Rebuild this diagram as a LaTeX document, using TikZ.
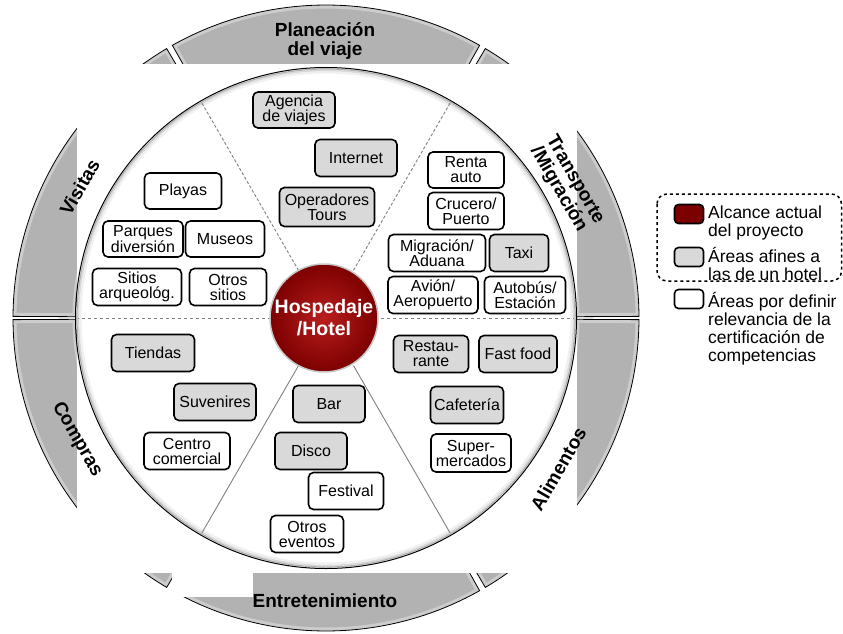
\documentclass[tikz,border=0pt]{standalone}
\usepackage{fontspec}
\setmainfont{Liberation Sans}
\usetikzlibrary{calc}
\definecolor{ringgray}{RGB}{178,178,178}
\definecolor{boxgray}{RGB}{217,217,217}
\definecolor{hotelred}{RGB}{125,0,0}
\definecolor{hotelred2}{RGB}{185,30,30}
\begin{document}
\begin{tikzpicture}[x=1pt,y=-1pt,
  box/.style={draw=black, line width=1.6pt, rounded corners=5pt, align=center, inner sep=1pt,
              font=\fontsize{16}{15}\selectfont},
  gbox/.style={box, fill=boxgray},
  wbox/.style={box, fill=white},
  seglabel/.style={font=\bfseries\fontsize{19}{19}\selectfont, align=center, inner sep=0pt},
  legtext/.style={font=\fontsize{17.5}{18}\selectfont, align=left, anchor=west, inner sep=0pt},
  legbox/.style={draw=black, line width=1.6pt, rounded corners=4pt, minimum width=29pt, minimum height=19pt, inner sep=0pt},
  divline/.style={draw=gray, line width=0.9pt}]
\useasboundingbox (0,0) rectangle (843,634);
\coordinate (C) at (326,318);

% outer ring segments
\foreach \a/\b in {0.3/59.4, 60.6/119.4, 120.6/179.7, 180.3/239.4, 240.6/299.4, 300.6/359.7} {
  \begin{scope}
    \clip ($(C)+(-\a:250)$) -- ($(C)+(-\a:313)$) arc[start angle=-\a, end angle=-\b, radius=313]
      -- ($(C)+(-\b:250)$) arc[start angle=-\b, end angle=-\a, radius=250] -- cycle;
    \fill[ringgray] (C) circle[radius=320];
    \draw[white, opacity=0.35, line width=7pt]
      ($(C)+(-\a:250)$) -- ($(C)+(-\a:313)$) arc[start angle=-\a, end angle=-\b, radius=313]
      -- ($(C)+(-\b:250)$) arc[start angle=-\b, end angle=-\a, radius=250] -- cycle;
  \end{scope}
  \draw[black, line width=0.8pt]
    ($(C)+(-\a:250)$) -- ($(C)+(-\a:313)$) arc[start angle=-\a, end angle=-\b, radius=313]
    -- ($(C)+(-\b:250)$) arc[start angle=-\b, end angle=-\a, radius=250] -- cycle;
}

% white masks
\fill[white] (77,64) rectangle (577,573);
\fill[white] (172,573) rectangle (253,597);

% inner disk
\fill[white] (C) circle[radius=250];
\draw[gray!12, line width=2pt] (C) circle[radius=245.5];
\draw[gray!30, line width=1.5pt] (C) circle[radius=247.5];
\draw[gray!60, line width=1.2pt] (C) circle[radius=249];
\draw[black, line width=1pt] (C) circle[radius=250.5];

% sector dividers
\foreach \t in {60,120} \draw[divline, densely dashed] ($(C)+(-\t:55)$) -- ($(C)+(-\t:248)$);
\foreach \t in {240,300} \draw[divline] ($(C)+(-\t:55)$) -- ($(C)+(-\t:248)$);
\foreach \t in {0,180} \draw[divline, dashed] ($(C)+(-\t:55)$) -- ($(C)+(-\t:248)$);

% centre
\node[circle, minimum size=108pt, inner sep=0pt, draw=gray!45, line width=1.5pt,
      inner color=hotelred2, outer color=hotelred, text=white, align=center,
      font=\bfseries\fontsize{19.5}{22}\selectfont] (hotel) at (324,318) {Hospedaje\\/Hotel};

% Planeacion
\node[gbox, minimum width=82pt, minimum height=36pt] (agencia) at (294,110) {Agencia\\de viajes};
\node[gbox, minimum width=82pt, minimum height=37pt] (internet) at (356,158) {Internet};
\node[gbox, minimum width=95pt, minimum height=39pt] (operadores) at (327,207) {Operadores\\Tours};
% Visitas
\node[wbox, minimum width=77pt, minimum height=36pt] (playas) at (183,191) {Playas};
\node[wbox, minimum width=80pt, minimum height=36pt] (parques) at (143,239) {Parques\\diversión};
\node[wbox, minimum width=79pt, minimum height=36pt] (museos) at (225,239) {Museos};
\node[wbox, minimum width=89pt, minimum height=37pt] (sitios) at (137,287) {Sitios\\arqueológ.};
\node[wbox, minimum width=77pt, minimum height=37pt] (otrossitios) at (228,287) {Otros\\sitios};
% Transporte
\node[wbox, minimum width=76pt, minimum height=36pt] (renta) at (466,170) {Renta\\auto};
\node[wbox, minimum width=76pt, minimum height=37pt] (crucero) at (466,211) {Crucero/\\Puerto};
\node[wbox, minimum width=97pt, minimum height=37pt] (migracion) at (437,253) {Migración/\\Aduana};
\node[gbox, minimum width=59pt, minimum height=37pt] (taxi) at (519,253) {Taxi};
\node[wbox, minimum width=90pt, minimum height=37pt] (avion) at (433,295) {Avión/\\Aeropuerto};
\node[wbox, minimum width=81pt, minimum height=37pt] (autobus) at (525,295) {Autobús/\\Estación};
% Compras
\node[gbox, minimum width=83pt, minimum height=37pt] (tiendas) at (153,353) {Tiendas};
\node[gbox, minimum width=82pt, minimum height=37pt] (suvenires) at (215,402) {Suvenires};
\node[wbox, minimum width=86pt, minimum height=37pt] (centro) at (187,451) {Centro\\comercial};
% Alimentos
\node[gbox, minimum width=75pt, minimum height=37pt] (restaurante) at (431,354) {Restau-\\rante};
\node[gbox, minimum width=78pt, minimum height=37pt] (fastfood) at (518,354) {Fast food};
\node[gbox, minimum width=73pt, minimum height=37pt] (cafeteria) at (467,405) {Cafetería};
\node[wbox, minimum width=80pt, minimum height=38pt] (super) at (471,453) {Super-\\mercados};
% Entretenimiento
\node[gbox, minimum width=72pt, minimum height=37pt] (bar) at (329,404) {Bar};
\node[gbox, minimum width=72pt, minimum height=37pt] (disco) at (311,451) {Disco};
\node[wbox, minimum width=75pt, minimum height=37pt] (festival) at (346,491) {Festival};
\node[wbox, minimum width=73pt, minimum height=37pt] (otroseventos) at (307,534) {Otros\\eventos};

% segment labels
\node[seglabel] (lplan) at (325,41) {Planeación\\del viaje};
\node[seglabel] (lentre) at (325,601) {Entretenimiento};
\node[seglabel, rotate=60] (lvis) at ($(C)+(-152:279)$) {Visitas};
\node[seglabel, rotate=-60] (lcomp) at ($(C)+(-206:277)$) {Compras};
\node[seglabel, rotate=60] (lalim) at ($(C)+(33:277)$) {Alimentos};
\node[seglabel, rotate=-60] (ltrans) at ($(C)+(-29:275)$) {Transporte\\/Migración};

% legend
\draw[black, line width=1.5pt, dashed, rounded corners=10pt] (657,194) rectangle (841.5,281);
\node[legbox, fill=hotelred] (leg1) at (689,214) {};
\node[legbox, fill=boxgray] (leg2) at (689,257) {};
\node[legbox, fill=white] (leg3) at (689,299) {};
\node[legtext] (legt1) at (708,223) {Alcance actual\\del proyecto};
\node[legtext] (legt2) at (708,264) {Áreas afines a\\las de un hotel};
\node[legtext] (legt3) at (708,329) {Áreas por definir\\relevancia de la\\certificación de\\competencias};
\end{tikzpicture}
\end{document}
